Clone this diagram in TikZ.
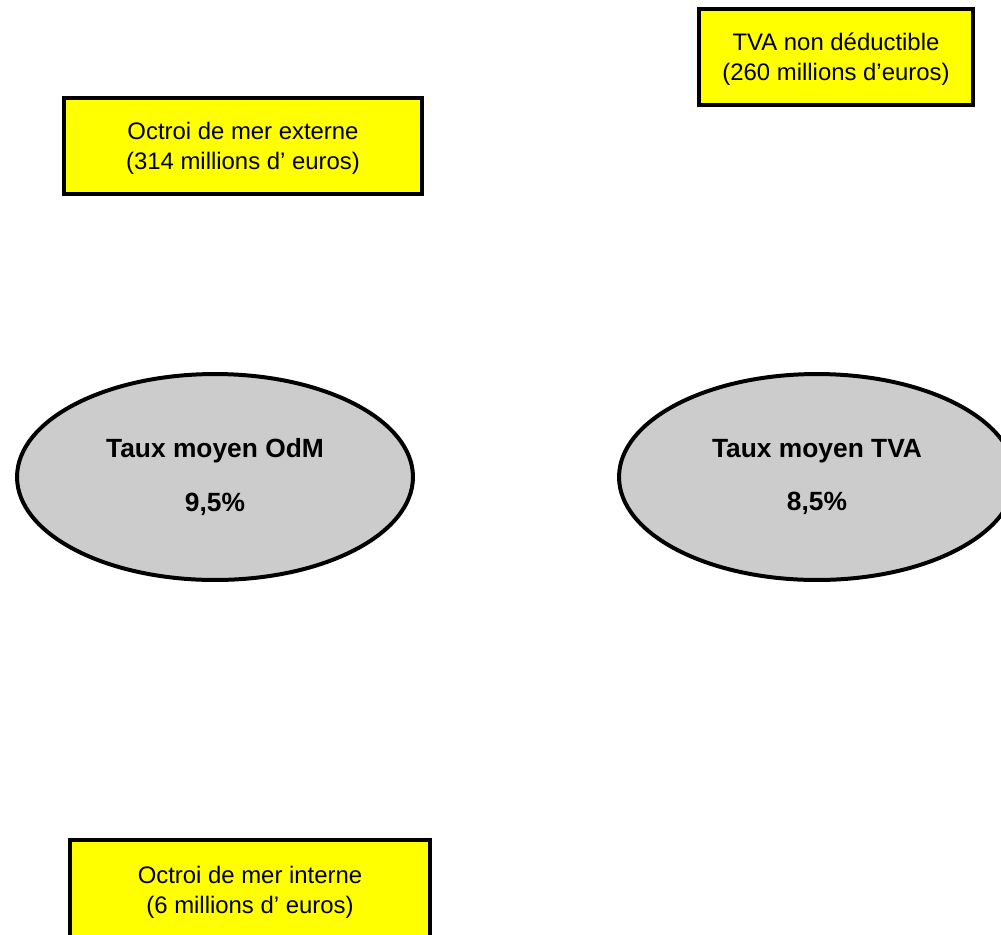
\documentclass[tikz,border=0pt]{standalone}
\usepackage{fontspec}
\setmainfont{Liberation Sans}
\usetikzlibrary{shapes.geometric}
\definecolor{notefill}{RGB}{255,255,0}
\definecolor{ratefill}{RGB}{204,204,204}
\begin{document}
\begin{tikzpicture}[x=0.02cm,y=-0.02cm,
  note/.style={draw=black, fill=notefill, line width=2.27pt, inner sep=0pt,
    text depth=-2.5pt, align=center, font=\fontsize{13.6}{17}\selectfont},
  rate/.style={ellipse, draw=black, fill=ratefill, line width=2.27pt, inner sep=0pt,
    minimum width=7.92cm, minimum height=4.12cm,
    align=center, font=\fontsize{15}{30.6}\selectfont\bfseries}]
  \useasboundingbox (0,0) rectangle (1001,934);
  \clip (0,0) rectangle (1001,934);
  % tax boxes
  \node[note, minimum width=7.16cm, minimum height=1.92cm] (ext) at (243,146)
    {Octroi de mer externe\\(314 millions d’ euros)};
  \node[note, minimum width=5.48cm, minimum height=1.92cm] (tva) at (836,57)
    {TVA non déductible\\(260 millions d’euros)};
  \node[note, minimum width=7.2cm, minimum height=2cm] (int) at (250,890)
    {Octroi de mer interne\\(6 millions d’ euros)};
  % average rates
  \node[rate] (odm) at (215,477) {Taux moyen OdM\\9,5\%};
  \node[rate] (rtva) at (817,477) {Taux moyen TVA\\8,5\%};
\end{tikzpicture}
\end{document}
